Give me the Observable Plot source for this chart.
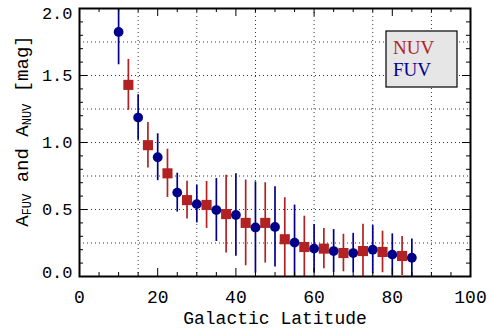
<!DOCTYPE html>
<html><head><meta charset="utf-8">
<script src="https://cdn.jsdelivr.net/npm/d3@7"></script>
<script src="https://cdn.jsdelivr.net/npm/@observablehq/plot@0.6"></script>
<style>body{margin:0;background:#fff}</style>
</head><body><div id="chart"></div>
<script>
// ---- data ----
const fuvLat = [10, 15, 20, 25, 30, 35, 40, 45, 50, 55, 60, 65, 70, 75, 80, 85];
const fuvA   = [1.825, 1.186, 0.89, 0.626, 0.54, 0.496, 0.459, 0.366, 0.37, 0.253, 0.208, 0.19, 0.175, 0.20, 0.163, 0.14];
const fuvErr = [0.245, 0.17, 0.175, 0.145, 0.14, 0.235, 0.307, 0.34, 0.30, 0.28, 0.18, 0.16, 0.147, 0.18, 0.155, 0.14];
const nuvLat = [12.5, 17.5, 22.5, 27.5, 32.5, 37.5, 42.5, 47.5, 52.5, 57.5, 62.5, 67.5, 72.5, 77.5, 82.5];
const nuvA   = [1.43, 0.98, 0.77, 0.57, 0.534, 0.466, 0.40, 0.40, 0.278, 0.22, 0.208, 0.175, 0.19, 0.183, 0.153];
const nuvErr = [0.19, 0.17, 0.18, 0.14, 0.175, 0.29, 0.32, 0.30, 0.31, 0.23, 0.15, 0.14, 0.2, 0.155, 0.145];
const xTickLabels = [0, 20, 40, 60, 80, 100];
const xMinorTicks = [5, 10, 15, 25, 30, 35, 45, 50, 55, 65, 70, 75, 85, 90, 95];
const xGridLines = [15, 30, 45, 60, 75, 90];
const yTickLabels = [0.0, 0.5, 1.0, 1.5, 2.0];
const yMinorTicks = [0.1,0.2,0.3,0.4,0.6,0.7,0.8,0.9,1.1,1.2,1.3,1.4,1.6,1.7,1.8,1.9];
const yGridLines = [0.25, 0.5, 0.75, 1.0, 1.25, 1.5, 1.75];
const legendLabels = ["NUV", "FUV"];

// ---- layout ----
const W = 490, H = 333, mt = 8, mb = 57, ml = 79, mr = 20;
const ph = H - mt - mb, pw = W - ml - mr;
const RED = "#b22222", BLUE = "#00008b";
const MONO = "'Liberation Mono', 'DejaVu Sans Mono', monospace";

const fuv = fuvLat.map((x, i) => ({x, y: fuvA[i], e: fuvErr[i]}));
const nuv = nuvLat.map((x, i) => ({x, y: nuvA[i], e: nuvErr[i]}));

const grid = {stroke: "#333", strokeOpacity: 1, strokeWidth: 1, strokeDasharray: "1,3"};
const midY = yTickLabels.filter(v => v > 0 && v < 2);

const chart = Plot.plot({
  width: W, height: H,
  marginTop: mt, marginBottom: mb, marginLeft: ml, marginRight: mr,
  style: {fontFamily: MONO, background: "white", color: "black"},
  x: {domain: [0, 100], axis: null},
  y: {domain: [0, 2], axis: null},
  marks: [
    Plot.gridX(xGridLines, grid),
    Plot.gridY(yGridLines, grid),
    Plot.ruleX(nuv, {x: "x", y1: d => d.y - d.e, y2: d => d.y + d.e, stroke: RED, strokeWidth: 1.7, clip: true}),
    Plot.ruleX(fuv, {x: "x", y1: d => d.y - d.e, y2: d => d.y + d.e, stroke: BLUE, strokeWidth: 1.7, clip: true}),
    Plot.dot(nuv, {x: "x", y: "y", symbol: "square", fill: RED, r: 5.7, clip: true}),
    Plot.dot(fuv, {x: "x", y: "y", symbol: "circle", fill: BLUE, r: 4.9, clip: true}),
    // inward ticks: bottom / top
    Plot.tickX(xMinorTicks, {x: d => d, insetTop: ph - 4, stroke: "black"}),
    Plot.tickX(xTickLabels, {x: d => d, insetTop: ph - 8, stroke: "black"}),
    Plot.tickX(xMinorTicks, {x: d => d, insetBottom: ph - 4, stroke: "black"}),
    Plot.tickX(xTickLabels, {x: d => d, insetBottom: ph - 8, stroke: "black"}),
    // inward ticks: left / right
    Plot.tickY(yMinorTicks, {y: d => d, insetRight: pw - 4, stroke: "black"}),
    Plot.tickY(yTickLabels, {y: d => d, insetRight: pw - 8, stroke: "black"}),
    Plot.tickY(yMinorTicks, {y: d => d, insetLeft: pw - 4, stroke: "black"}),
    Plot.tickY(yTickLabels, {y: d => d, insetLeft: pw - 8, stroke: "black"}),
    // tick labels
    Plot.text(xTickLabels, {x: d => d, frameAnchor: "bottom", dy: 26, text: d => String(d), fontSize: 18, fill: "black"}),
    Plot.text(midY, {y: d => d, frameAnchor: "left", dx: -7, textAnchor: "end", text: d => d.toFixed(1), fontSize: 17, fill: "black"}),
    Plot.text(yTickLabels.filter(v => v === 2), {y: d => d, frameAnchor: "left", dx: -7, dy: 5, textAnchor: "end", text: d => d.toFixed(1), fontSize: 17, fill: "black"}),
    Plot.text(yTickLabels.filter(v => v === 0), {y: d => d, frameAnchor: "left", dx: -7, dy: -4, textAnchor: "end", text: d => d.toFixed(1), fontSize: 17, fill: "black"}),
    Plot.text(["Galactic Latitude"], {frameAnchor: "bottom", dy: 47, text: d => d, fontSize: 18, fill: "black"}),
    Plot.frame({stroke: "black", strokeWidth: 2})
  ]
});
document.getElementById("chart").appendChild(chart);

const svg = d3.select(chart);
// y-axis label with subscripts
const yl = svg.append("text")
  .attr("transform", "translate(28,131) rotate(-90)")
  .attr("text-anchor", "middle")
  .attr("font-family", MONO)
  .attr("font-size", 19)
  .attr("fill", "black");
yl.append("tspan").text("A");
yl.append("tspan").attr("font-size", 12).attr("dy", 3).text("FUV");
yl.append("tspan").attr("dy", -3).text(" and A");
yl.append("tspan").attr("font-size", 12).attr("dy", 3).text("NUV");
yl.append("tspan").attr("dy", -3).text(" [mag]");

// legend box
const lg = svg.append("g");
lg.append("rect").attr("x", 386).attr("y", 31).attr("width", 71).attr("height", 56)
  .attr("fill", "#e6e6e6").attr("stroke", "black").attr("stroke-width", 1.2);
const legendColors = [RED, BLUE];
legendLabels.forEach((t, i) => {
  lg.append("text").attr("x", 393).attr("y", 53.5 + i * 22.5)
    .attr("text-anchor", "start")
    .attr("font-family", "'Liberation Serif', 'DejaVu Serif', serif")
    .attr("font-size", 19).attr("fill", legendColors[i]).text(t);
});
</script>
</body></html>
